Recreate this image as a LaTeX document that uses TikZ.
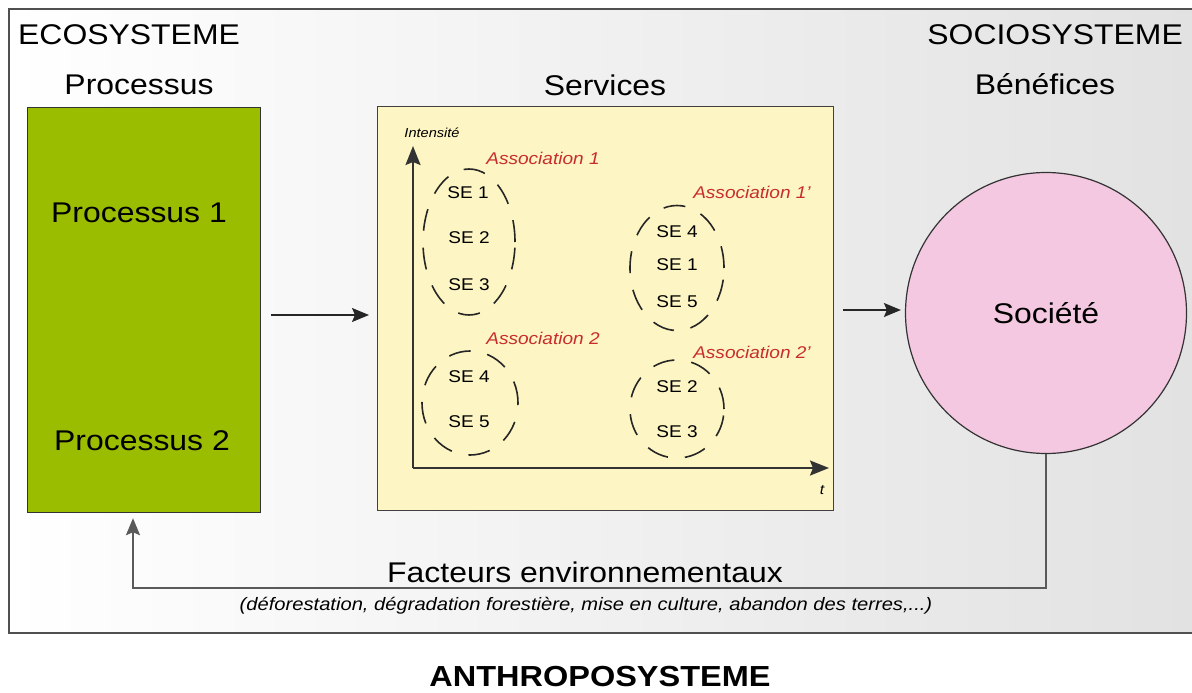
\documentclass[tikz,border=0pt]{standalone}
\usepackage{fontspec}
\setmainfont{Liberation Sans}[FakeStretch=1.12]
\usetikzlibrary{shapes.geometric,arrows.meta}
\definecolor{procgreen}{RGB}{154,189,0}
\definecolor{servyellow}{RGB}{253,245,195}
\definecolor{socpink}{RGB}{244,200,224}
\definecolor{assocred}{RGB}{200,45,45}
\definecolor{framegray}{RGB}{80,80,80}
\definecolor{bgright}{RGB}{226,226,226}
\definecolor{fbgray}{RGB}{90,90,90}
\tikzset{
  txt/.style={inner sep=0pt, font=\fontsize{28.5}{32}\selectfont},
  setxt/.style={inner sep=0pt, font=\fontsize{17}{19}\selectfont},
  assoc/.style={inner sep=0pt, text=assocred, font=\fontsize{17}{19}\selectfont\itshape},
  grp/.style={draw=black!85, line width=1.6pt, ellipse, inner sep=0pt, dash pattern=on 22pt off 17pt},
  flow/.style={draw=black!85, line width=1.5pt, -{Stealth[length=17pt,width=14pt,inset=3pt]}},
  axis/.style={draw=black!80, line width=2pt, -{Stealth[length=19pt,width=15pt,inset=3pt]}},
}
\begin{document}
\begin{tikzpicture}[x=1pt,y=-1pt]
\useasboundingbox (0,0) rectangle (1192,693);
\fill[white] (0,0) rectangle (1192,693);
\shade[left color=white, right color=bgright] (9,9) rectangle (1192,633);
\draw[framegray, line width=2pt] (1192,9) -- (9,9) -- (9,633) -- (1192,633);

\node[txt, anchor=west] (eco) at (18,35) {ECOSYSTEME};
\node[txt, anchor=east] (socio) at (1183,35) {SOCIOSYSTEME};
\node[txt] (hproc) at (139,85) {Processus};
\node[txt] (hserv) at (605,85) {Services};
\node[txt] (hben) at (1045,84) {Bénéfices};

\node[draw=black!80, line width=1.2pt, fill=procgreen, minimum width=233pt, minimum height=405pt, anchor=north west, inner sep=0pt] (proc) at (27,107) {};
\node[txt] (p1) at (139,213) {Processus 1};
\node[txt] (p2) at (142,441) {Processus 2};

\node[draw=black!75, line width=1.2pt, fill=servyellow, minimum width=456pt, minimum height=404pt, anchor=north west, inner sep=0pt] (serv) at (377,106) {};

\coordinate (orig) at (413,468);
\coordinate (ytip) at (413,146);
\coordinate (xtip) at (829,468);
\draw[axis] (orig) -- (ytip);
\draw[axis] (orig) -- (xtip);
\node[inner sep=0pt, font=\fontsize{13}{14}\selectfont\itshape] (int) at (432,133) {Intensité};
\node[inner sep=0pt, font=\fontsize{14}{14}\selectfont\itshape] (t) at (822,490) {t};

\node[assoc] (a1) at (543,158) {Association 1};
\node[grp, minimum width=92pt, minimum height=146pt] (e1) at (469,242) {};
\node[setxt] (s11) at (468,193) {SE 1};
\node[setxt] (s12) at (469,238) {SE 2};
\node[setxt] (s13) at (469,285) {SE 3};

\node[assoc] (a2) at (543,338) {Association 2};
\node[grp, minimum width=96pt, minimum height=104pt] (e2) at (470,403) {};
\node[setxt] (s24) at (469,377) {SE 4};
\node[setxt] (s25) at (469,422) {SE 5};

\node[assoc] (a3) at (752,192) {Association 1'};
\node[grp, minimum width=94pt, minimum height=125pt] (e3) at (677,268) {};
\node[setxt] (s34) at (677,232) {SE 4};
\node[setxt] (s31) at (677,265) {SE 1};
\node[setxt] (s35) at (677,302) {SE 5};

\node[assoc] (a4) at (752,352) {Association 2'};
\node[grp, minimum width=94pt, minimum height=98pt] (e4) at (677,409) {};
\node[setxt] (s42) at (677,387) {SE 2};
\node[setxt] (s43) at (677,432) {SE 3};

\node[circle, draw=black!80, line width=1.2pt, fill=socpink, minimum size=281pt, inner sep=0pt] (soc) at (1046,313) {};
\node[txt] (soct) at (1046,313) {Société};

\draw[flow] (proc.east |- 0,315) ++(10,0) -- ([xshift=-8pt]serv.west |- 0,315);
\draw[flow] (serv.east |- 0,310) ++(9,0) -- ([xshift=-4pt]soc.west |- 0,310);

\coordinate (fbR) at (1046,588);
\coordinate (fbL) at (133,588);
\draw[fbgray, line width=2pt, -{Stealth[length=17pt,width=14pt,inset=3pt]}, shorten >=5pt] (soc.south) -- (fbR) -- (fbL) -- (fbL |- proc.south);

\node[txt] (fac) at (585,572) {Facteurs environnementaux};
\node[inner sep=0pt, font=\fontsize{18}{20}\selectfont\itshape] (sub) at (586,606) {(déforestation, dégradation forestière, mise en culture, abandon des terres,...)};
\node[inner sep=0pt, font=\fontsize{29}{32}\selectfont\bfseries] (anth) at (600,677) {ANTHROPOSYSTEME};
\end{tikzpicture}
\end{document}
